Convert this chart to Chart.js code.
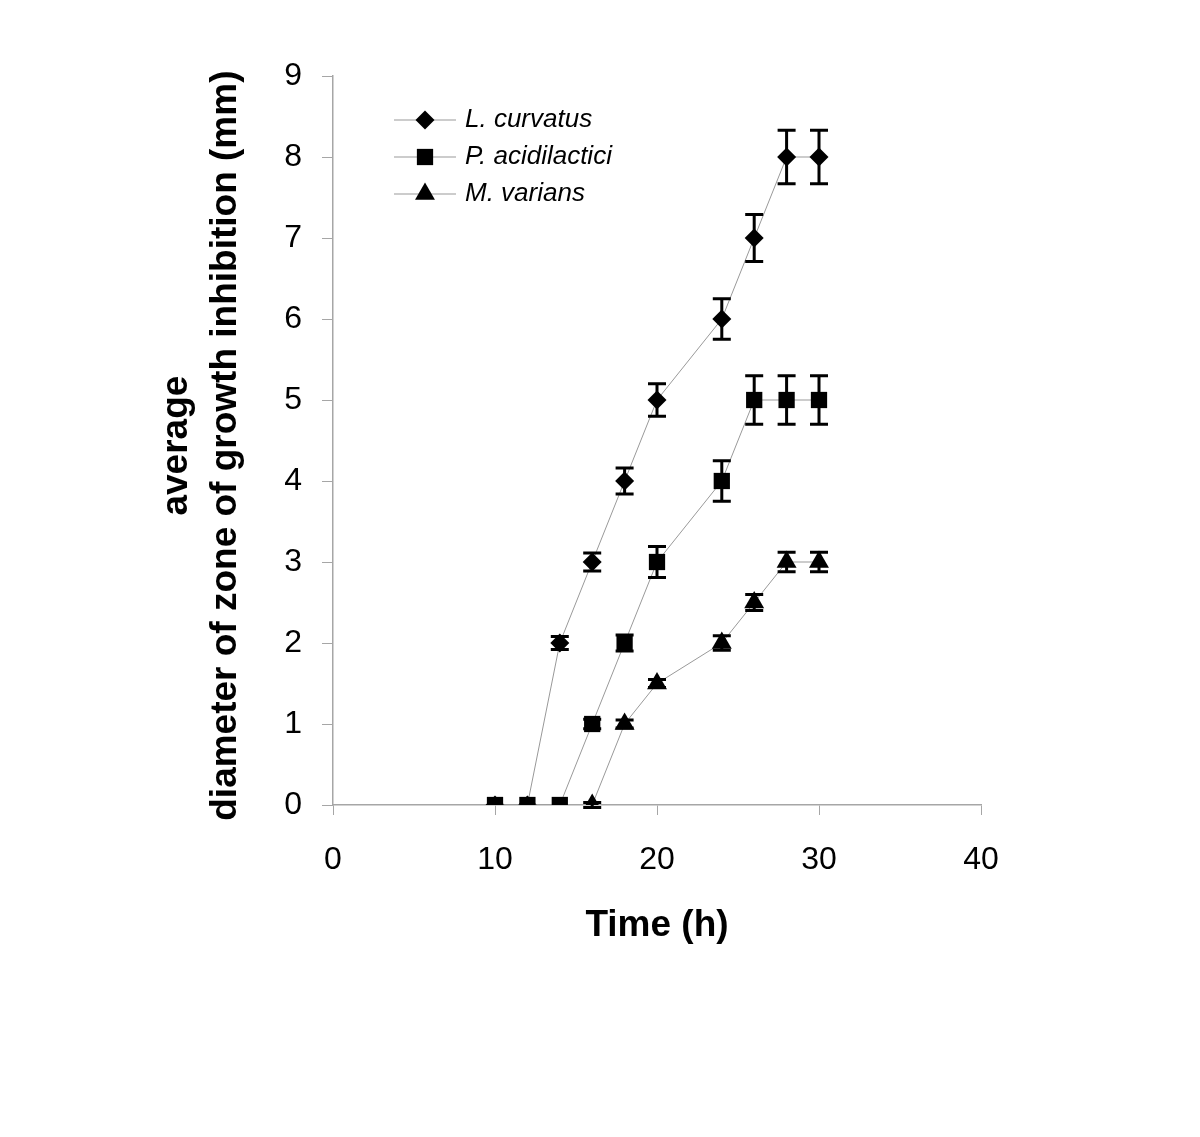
<!DOCTYPE html>
<html>
<head>
<meta charset="utf-8">
<script src="https://cdn.jsdelivr.net/npm/chart.js@4"></script>
<style>
  html, body { margin: 0; padding: 0; background: #fff; }
  #wrap { width: 1200px; height: 1137px; }
</style>
</head>
<body>
<div id="wrap"><canvas id="c" width="1200" height="1137"></canvas></div>
<script>
// ---- data ----
const seriesNames = ['L. curvatus', 'P. acidilactici', 'M. varians'];
const curvatusX = [10, 12, 14, 16, 18, 20, 24, 26, 28, 30];
const curvatusY = [0, 0, 2, 3, 4, 5, 6, 7, 8, 8];
const curvatusErr = [0, 0, 0.08, 0.11, 0.16, 0.2, 0.25, 0.29, 0.33, 0.33];
const acidilacticiX = [10, 12, 14, 16, 18, 20, 24, 26, 28, 30];
const acidilacticiY = [0, 0, 0, 1, 2, 3, 4, 5, 5, 5];
const acidilacticiErr = [0, 0, 0, 0.06, 0.1, 0.19, 0.25, 0.3, 0.3, 0.3];
const variansX = [16, 18, 20, 24, 26, 28, 30];
const variansY = [0, 1, 1.5, 2, 2.5, 3, 3];
const variansErr = [0.03, 0.05, 0.05, 0.09, 0.1, 0.12, 0.12];
const xTicks = [0, 10, 20, 30, 40];
const yTicks = [0, 1, 2, 3, 4, 5, 6, 7, 8, 9];
const xTitle = 'Time (h)';
const yTitle = ['average ', 'diameter of zone of growth inhibition (mm) '];

function pts(xs, ys) { return xs.map((x, i) => ({ x: x, y: ys[i] })); }

const errs = [curvatusErr, acidilacticiErr, variansErr];
const shapes = ['rectRot', 'rect', 'triangle'];
const radii = [9.5, 11.5, 11.5];

const datasets = [
  { label: seriesNames[0], data: pts(curvatusX, curvatusY), order: 3 },
  { label: seriesNames[1], data: pts(acidilacticiX, acidilacticiY), order: 2 },
  { label: seriesNames[2], data: pts(variansX, variansY), order: 1 }
].map((d, i) => Object.assign(d, {
  borderColor: '#999999',
  borderWidth: 1,
  pointStyle: shapes[i],
  pointRadius: radii[i],
  pointHoverRadius: radii[i],
  pointBackgroundColor: '#000',
  pointBorderColor: '#000',
  pointBorderWidth: 0,
  showLine: true,
  fill: false,
  tension: 0
}));

const errorBars = {
  id: 'errorBars',
  afterDatasetsDraw(chart) {
    const ctx = chart.ctx;
    const xs = chart.scales.x, ys = chart.scales.y;
    ctx.save();
    ctx.strokeStyle = '#000';
    ctx.lineWidth = 3;
    chart.data.datasets.forEach((ds, i) => {
      ds.data.forEach((p, j) => {
        const e = errs[i][j];
        if (!e) return;
        const px = xs.getPixelForValue(p.x);
        const top = ys.getPixelForValue(p.y + e);
        const bot = ys.getPixelForValue(p.y - e);
        const cw = 9;
        ctx.beginPath();
        ctx.moveTo(px, top); ctx.lineTo(px, bot);
        ctx.moveTo(px - cw, top); ctx.lineTo(px + cw, top);
        ctx.moveTo(px - cw, bot); ctx.lineTo(px + cw, bot);
        ctx.stroke();
      });
    });
    ctx.restore();
  }
};

const insideLegend = {
  id: 'insideLegend',
  afterDraw(chart) {
    const ctx = chart.ctx;
    const ca = chart.chartArea;
    const x0 = ca.left + 61, x1 = ca.left + 123, xm = ca.left + 92, tx = ca.left + 132;
    const rowY = [ca.top + 44, ca.top + 81, ca.top + 118];
    ctx.save();
    chart.data.datasets.forEach((ds, i) => {
      const y = rowY[i];
      ctx.strokeStyle = ds.borderColor;
      ctx.lineWidth = 1;
      ctx.beginPath(); ctx.moveTo(x0, y); ctx.lineTo(x1, y); ctx.stroke();
      ctx.fillStyle = '#000';
      ctx.strokeStyle = '#000';
      Chart.helpers.drawPoint(ctx, { pointStyle: ds.pointStyle, radius: ds.pointRadius, borderWidth: 0, rotation: 0 }, xm, y);
      ctx.fillStyle = '#000';
      ctx.font = 'italic 26px "Liberation Sans", Arial, sans-serif';
      ctx.textAlign = 'left';
      ctx.textBaseline = 'middle';
      ctx.fillText(ds.label, tx, y);
    });
    ctx.restore();
  }
};

const axisColor = '#a6a6a6';
new Chart(document.getElementById('c'), {
  type: 'scatter',
  data: { datasets: datasets },
  options: {
    responsive: false,
    animation: false,
    events: [],
    layout: { padding: { left: 152, top: 76, right: 219, bottom: 189 } },
    plugins: { legend: { display: false }, tooltip: { enabled: false } },
    scales: {
      x: {
        type: 'linear', min: 0, max: 40,
        afterBuildTicks(s) { s.ticks = xTicks.map(v => ({ value: v })); },
        afterFit(s) { s.height = 143; },
        grid: { drawOnChartArea: false, drawTicks: true, tickLength: 10, color: axisColor, lineWidth: 1 },
        border: { display: true, color: axisColor, width: 1.5 },
        ticks: { color: '#000', padding: 26, font: { family: '"Liberation Sans", Arial, sans-serif', size: 32 } },
        title: { display: true, text: xTitle, color: '#000', padding: { top: 0, bottom: 0 },
          font: { family: '"Liberation Sans", Arial, sans-serif', size: 37, weight: 'bold' } }
      },
      y: {
        type: 'linear', min: 0, max: 9,
        afterBuildTicks(s) { s.ticks = yTicks.map(v => ({ value: v })); },
        afterFit(s) { s.width = 181; },
        grid: { drawOnChartArea: false, drawTicks: true, tickLength: 11, color: axisColor, lineWidth: 1 },
        border: { display: true, color: axisColor, width: 1.5 },
        ticks: { color: '#000', padding: 20, font: { family: '"Liberation Sans", Arial, sans-serif', size: 32 } },
        title: { display: true, text: yTitle, color: '#000', padding: { top: 0, bottom: 0 },
          font: { family: '"Liberation Sans", Arial, sans-serif', size: 37, weight: 'bold', lineHeight: 1.324 } }
      }
    }
  },
  plugins: [errorBars, insideLegend]
});
</script>
</body>
</html>
